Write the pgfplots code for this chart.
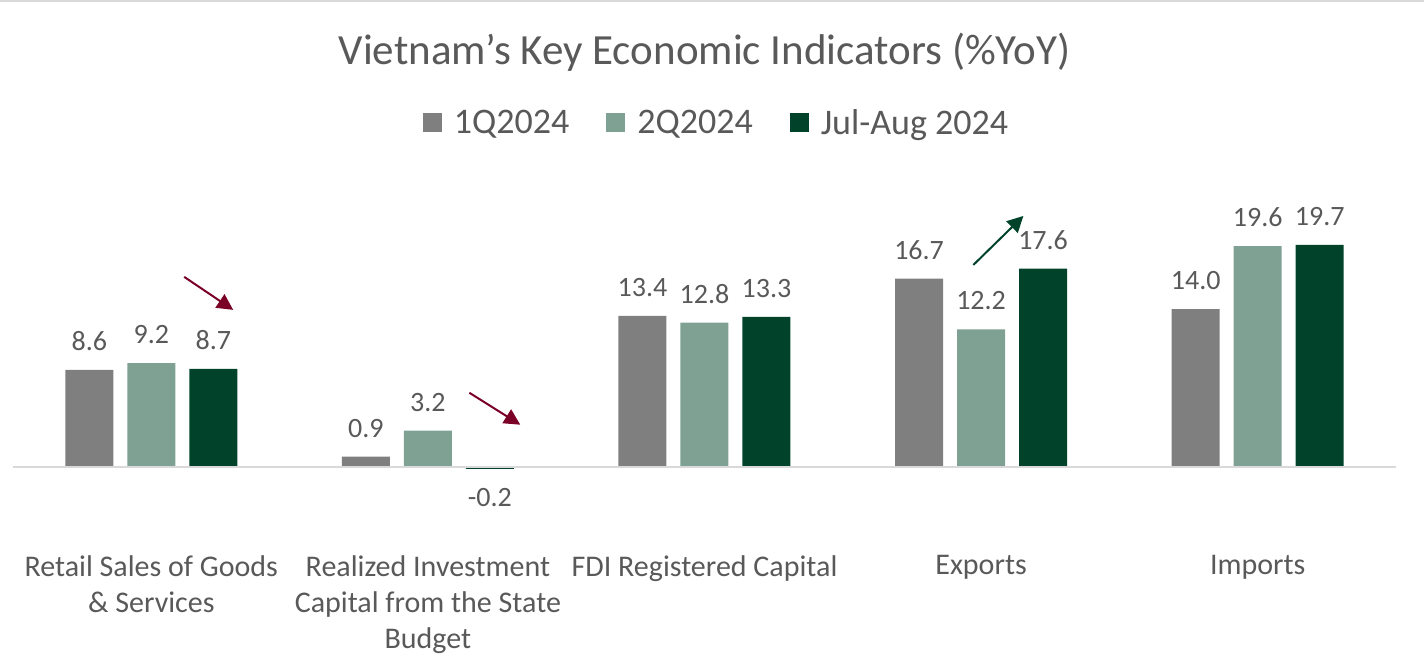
\documentclass[border=0pt]{standalone}
\usepackage{pgfplots}
\pgfplotsset{compat=1.18}
\usepackage{fontspec}
\setmainfont{Carlito}
\usetikzlibrary{arrows.meta}
\definecolor{txt}{HTML}{595959}
\definecolor{cA}{HTML}{7F7F7F}
\definecolor{cB}{HTML}{7FA193}
\definecolor{cC}{HTML}{00432A}
\definecolor{arr}{HTML}{7B0028}
\definecolor{zl}{HTML}{D9D9D9}
\begin{document}
\begin{tikzpicture}
\path[use as bounding box] (0,0) rectangle (1424pt,670pt);
\draw[line width=2pt, zl] (0,669pt) -- (1424pt,669pt);
\begin{axis}[
  at={(13pt,192pt)}, anchor=south west,
  scale only axis, width=1383pt, height=259pt,
  xmin=-0.5, xmax=4.5, ymin=-1, ymax=22,
  clip=false,
  ybar=14pt, bar width=48pt,
  axis line style={draw=none},
  ytick=\empty,
  xtick={0,1,2,3,4},
  xticklabels={{Retail Sales of Goods\\\& Services},{Realized Investment\\Capital from the State\\Budget},{FDI Registered Capital},{Exports},{Imports}},
  major tick length=0pt,
  xticklabel style={align=center, font=\fontsize{30}{36}\selectfont, text=txt, anchor=north, yshift=-74pt},
  nodes near coords,
  nodes near coords align=vertical,
  every node near coord/.append style={font=\fontsize{28}{32}\selectfont, text=txt, inner xsep=2pt, inner ysep=19pt},
  /pgf/number format/.cd, fixed, fixed zerofill, precision=1, assume math mode=true,
  /pgfplots/.cd,
  title={Vietnam’s Key Economic Indicators (\%YoY)},
  title style={at={(0.5,1.575)}, anchor=base, font=\fontsize{43}{48}\selectfont, text=txt},
  legend style={at={(0.508,1.371)}, anchor=center, draw=none, legend columns=3,
    font=\fontsize{36}{40}\selectfont, text=txt,
    nodes={inner sep=0pt},
    /tikz/every even column/.append style={column sep=37pt}},
  legend image code/.code={\fill[#1] (0pt,-9.5pt) rectangle (19pt,9.5pt); \path (31pt,0pt);},
]
\addplot[fill=cA, draw=none] coordinates {(0,8.6) (1,0.9) (2,13.4) (3,16.7) (4,14.0)};
\addplot[fill=cB, draw=none] coordinates {(0,9.2) (1,3.2) (2,12.8) (3,12.2) (4,19.6)};
\addplot[fill=cC, draw=none] coordinates {(0,8.7) (1,-0.2) (2,13.3) (3,17.6) (4,19.7)};
\legend{1Q2024,2Q2024,Jul-Aug 2024}
\draw[zl, line width=2pt] (axis cs:-0.5,0) -- (axis cs:4.5,0);
\draw[arr, line width=2pt, -{Triangle[length=16pt,width=16pt]}] (axis cs:0.119,16.86) -- (axis cs:0.296,13.93);
\draw[arr, line width=2pt, -{Triangle[length=16pt,width=16pt]}] (axis cs:1.150,6.57) -- (axis cs:1.334,3.73);
\draw[cC, line width=2pt, -{Triangle[length=16pt,width=16pt]}] (axis cs:2.972,17.92) -- (axis cs:3.153,22.27);
\end{axis}
\end{tikzpicture}
\end{document}
